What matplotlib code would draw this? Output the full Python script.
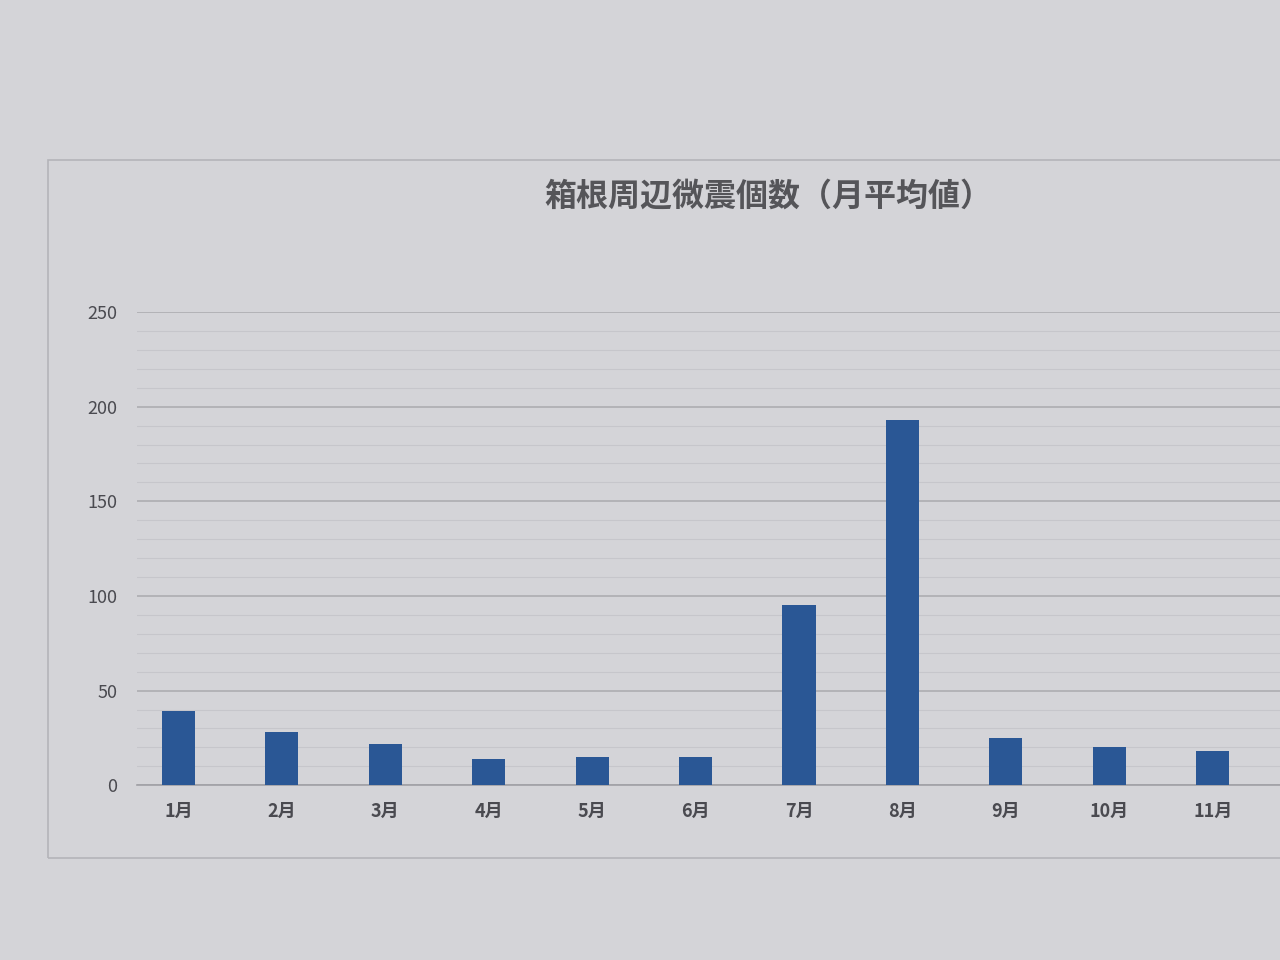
import matplotlib.pyplot as plt
from matplotlib.patches import Rectangle
from matplotlib.ticker import MultipleLocator

# monthly average number of micro-earthquakes around Hakone
months = ['1月', '2月', '3月', '4月', '5月', '6月', '7月', '8月', '9月', '10月', '11月']
counts = [39, 28, 22, 14, 15, 15, 95, 193, 25, 20, 18]
title = '箱根周辺微震個数（月平均値）'

plt.rcParams['font.family'] = ['Noto Sans CJK JP', 'DejaVu Sans']

bg = '#d4d4d8'
fig = plt.figure(figsize=(12.8, 9.6), dpi=100, facecolor=bg)

# chart frame (runs off the right edge like the photo)
fig.patches.append(Rectangle((0.0375, 0.106), 1.0, 0.727, transform=fig.transFigure,
                             fill=False, edgecolor='#b4b4b9', linewidth=1.2))

ax = fig.add_axes([0.107, 0.182, 0.893, 0.493])
ax.set_facecolor(bg)

x = range(len(months))
ax.bar(x, counts, width=0.32, color='#2a5795', zorder=3)

ax.set_ylim(0, 250)
ax.set_xlim(-0.4, 10.65)
ax.yaxis.set_major_locator(MultipleLocator(50))
ax.yaxis.set_minor_locator(MultipleLocator(10))
ax.grid(axis='y', which='major', color='#a9a9ae', linewidth=1.1, zorder=0)
ax.grid(axis='y', which='minor', color='#c6c6cb', linewidth=0.8, zorder=0)

for side in ['left', 'right', 'top']:
    ax.spines[side].set_visible(False)
ax.spines['bottom'].set_color('#a0a0a5')
ax.spines['bottom'].set_linewidth(1.2)

ax.set_xticks(list(x))
ax.set_xticklabels(months, fontsize=13, fontweight='bold', color='#4a4a50')
ax.tick_params(axis='x', length=0, pad=12)
ax.tick_params(axis='y', which='both', length=0, pad=14, labelsize=13, labelcolor='#4a4a50')

fig.text(0.6, 0.795, title, ha='center', va='center', fontsize=23,
         fontweight='bold', color='#555559')

fig.savefig('out.png', dpi=100, facecolor=bg)
